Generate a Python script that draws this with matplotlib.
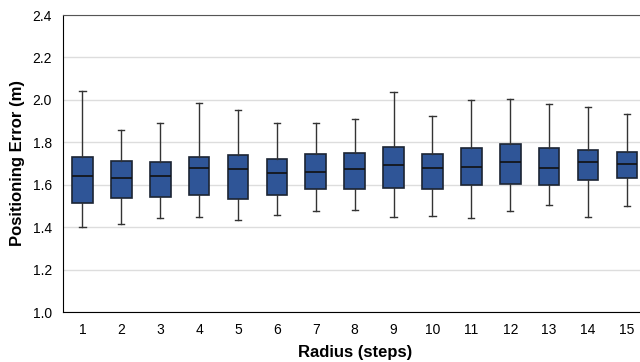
import matplotlib.pyplot as plt
import numpy as np

plt.rcParams['font.family'] = ['Liberation Sans', 'DejaVu Sans']

radius = list(range(1, 16))
whis_lo = [1.402, 1.414, 1.443, 1.449, 1.435, 1.458, 1.476, 1.483, 1.449, 1.452, 1.444, 1.477, 1.504, 1.446, 1.499]
q1 = [1.512, 1.538, 1.542, 1.551, 1.535, 1.551, 1.578, 1.579, 1.584, 1.581, 1.598, 1.603, 1.598, 1.620, 1.631]
med = [1.643, 1.634, 1.643, 1.680, 1.675, 1.653, 1.659, 1.676, 1.695, 1.681, 1.683, 1.705, 1.678, 1.707, 1.697]
q3 = [1.730, 1.714, 1.709, 1.730, 1.740, 1.721, 1.744, 1.749, 1.777, 1.747, 1.775, 1.794, 1.771, 1.762, 1.752]
whis_hi = [2.044, 1.859, 1.893, 1.987, 1.953, 1.893, 1.893, 1.909, 2.039, 1.926, 2.001, 2.005, 1.981, 1.966, 1.933]

stats = []
for i in range(len(radius)):
    stats.append(dict(label=str(radius[i]), whislo=whis_lo[i], q1=q1[i], med=med[i],
                      q3=q3[i], whishi=whis_hi[i], fliers=[]))

fig = plt.figure(figsize=(6.4, 3.62), dpi=100)
ax = fig.add_axes([63 / 640, 1 - 312 / 362, 1 - 63 / 640 + 0.01, 297 / 362])

ax.bxp(stats, positions=radius, widths=0.53, patch_artist=True, showfliers=False,
       boxprops=dict(facecolor='#2F5597', edgecolor='#1b2433', linewidth=1.2),
       medianprops=dict(color='#111111', linewidth=1.2),
       whiskerprops=dict(color='#333333', linewidth=1.0),
       capprops=dict(color='#333333', linewidth=1.0),
       capwidths=0.16)

ax.set_xlim(0.5, 15.5)
ax.set_ylim(1.0, 2.4)
ax.set_yticks(np.arange(1.0, 2.41, 0.2))
ax.set_yticklabels(['%.1f' % v for v in np.arange(1.0, 2.41, 0.2)])
ax.yaxis.grid(True, color='#dddddd', linewidth=1.0)
ax.set_axisbelow(True)
ax.tick_params(length=0, labelsize=10, pad=8)

ax.spines['right'].set_visible(False)
ax.spines['top'].set_color('#555555')
ax.spines['left'].set_color('black')
ax.spines['bottom'].set_color('black')

ax.set_xlabel('Radius (steps)', fontsize=12, fontweight='bold', labelpad=6)
ax.set_ylabel('Positioning Error (m)', fontsize=12, fontweight='bold', labelpad=5)

fig.savefig('out.png', dpi=100)
